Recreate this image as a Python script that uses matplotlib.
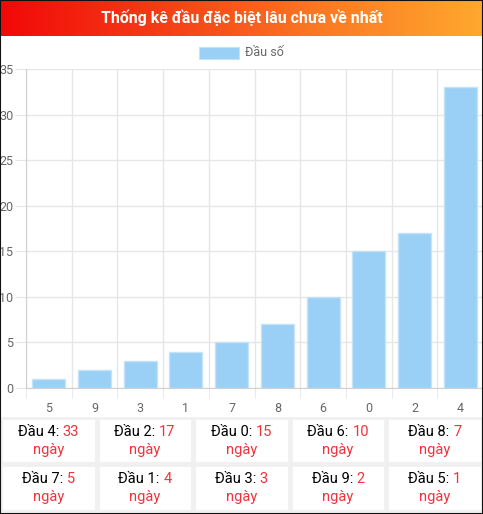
import numpy as np
import matplotlib
matplotlib.use("Agg")
import matplotlib.pyplot as plt
from matplotlib.patches import Rectangle
from matplotlib.colors import LinearSegmentedColormap

plt.rcParams['font.family'] = ['Roboto', 'DejaVu Sans']

TITLE = "Thống kê đầu đặc biệt lâu chưa về nhất"
LEGEND = "Đầu số"
heads = ["5", "9", "3", "1", "7", "8", "6", "0", "2", "4"]
days = [1, 2, 3, 4, 5, 7, 10, 15, 17, 33]

W, H = 483, 514
fig = plt.figure(figsize=(W / 100, H / 100), dpi=100)


def fx(px):
    return px / W


def fy(py):
    return 1 - py / H


# header gradient
hax = fig.add_axes([0, fy(36), 1, 36 / H])
cmap = LinearSegmentedColormap.from_list("hdr", ["#f20808", "#f53d16", "#fb7a24", "#ffa82e"])
hax.imshow(np.linspace(0, 1, 256)[None, :], aspect="auto", cmap=cmap, extent=[0, 1, 0, 1])
hax.set_axis_off()
fig.text(0.5, fy(18), TITLE, color="white", fontsize=11.4, fontweight="bold",
         ha="center", va="center")

# legend
fig.patches.append(Rectangle((fx(199), fy(59)), fx(40), 12 / H, transform=fig.transFigure,
                             facecolor="#9ad0f5", edgecolor="#c4e3f9", lw=0.8))
fig.text(fx(245), fy(52.5), LEGEND, color="#666666", fontsize=9, ha="left", va="center")

# bar chart
ax = fig.add_axes([fx(26), fy(388), fx(457), (388 - 69) / H])
x = np.arange(len(heads))
ax.bar(x, days, width=0.72, color="#9ad0f5", edgecolor="#c4e3f9", linewidth=1, zorder=3)
ax.set_xlim(-0.5, len(heads) - 0.5)
ax.set_ylim(0, 35)
ax.set_yticks(np.arange(0, 36, 5))
ax.set_xticks(x)
ax.set_xticklabels(heads)
ax.set_xticks(np.arange(-0.5, len(heads), 1), minor=True)
ax.grid(True, which="major", axis="y", color="#e6e6e6", lw=1, zorder=0)
ax.grid(True, which="minor", axis="x", color="#e6e6e6", lw=1, zorder=0)
ax.tick_params(axis="y", length=8, color="#e6e6e6", pad=1, labelsize=9, labelcolor="#666666")
ax.tick_params(axis="x", which="major", length=0, pad=10, labelsize=9, labelcolor="#666666")
ax.tick_params(axis="x", which="minor", length=7, color="#e6e6e6")
for s in ["top", "right"]:
    ax.spines[s].set_visible(False)
ax.spines["left"].set_color("#d0d0d0")
ax.spines["bottom"].set_color("#d0d0d0")

# table below
order = sorted(range(len(days)), key=lambda i: -days[i])
col_w = W / 5
rows = [(417, 464), (464, 512)]
renderer = fig.canvas.get_renderer()
RED = "#f0323c"
for k, i in enumerate(order):
    r, c = divmod(k, 5)
    y0, y1 = rows[r]
    x0 = c * col_w
    fig.patches.append(Rectangle((fx(x0 + 1), fy(y1 - 1)), fx(col_w - 2), (y1 - y0 - 2) / H,
                                 transform=fig.transFigure, facecolor="white",
                                 edgecolor="#f0f0f0", lw=2))
    cx = x0 + col_w / 2
    t1 = fig.text(0, fy(y0 + 15), f"Đầu {heads[i]}: ", color="black", fontsize=10.5,
                  ha="left", va="center")
    t2 = fig.text(0, fy(y0 + 15), f"{days[i]}", color=RED, fontsize=10.5,
                  ha="left", va="center")
    w1 = t1.get_window_extent(renderer).width
    w2 = t2.get_window_extent(renderer).width
    start = cx - (w1 + w2) / 2
    t1.set_x(fx(start))
    t2.set_x(fx(start + w1))
    fig.text(fx(cx), fy(y0 + 33), "ngày", color=RED, fontsize=10.5, ha="center", va="center")

# outer frame
fig.patches.append(Rectangle((0, 0), 1, 1, transform=fig.transFigure, fill=False,
                             edgecolor="#111111", lw=1.5))

fig.savefig("out.png", dpi=100)
